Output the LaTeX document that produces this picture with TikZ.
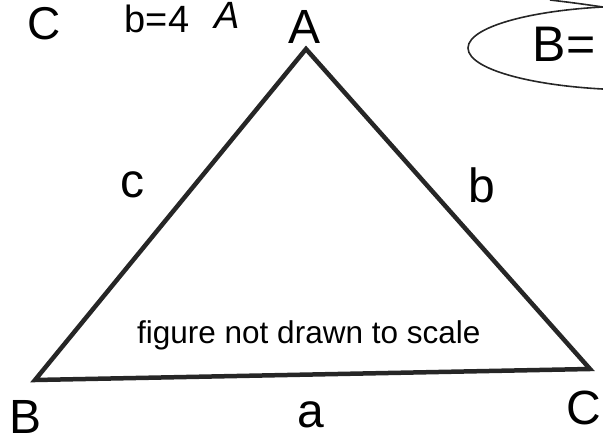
\documentclass[tikz,border=0pt]{standalone}
\usepackage{fontspec}
\setmainfont{Liberation Sans}
\begin{document}
\begin{tikzpicture}[x=1pt,y=-1pt,
  side/.style={line width=4.5pt, line join=miter, black!85},
  vlabel/.style={font=\fontsize{48}{48}\selectfont, anchor=base, inner sep=0pt},
  note/.style={font=\fontsize{31.5}{32}\selectfont, anchor=base west, inner sep=0pt},
  hand/.style={font=\fontsize{38}{38}\selectfont, anchor=base, inner sep=0pt},
  handline/.style={line width=1.6pt, black!85}]
\useasboundingbox (0,0) rectangle (603,441);
\clip (0,0) rectangle (603,441);
% triangle vertices
\coordinate (A) at (306,49);
\coordinate (B) at (35,380);
\coordinate (C) at (590,369);
\draw[side] (B) -- (A) -- (C) -- cycle;
% vertex labels
\node[vlabel] (lA) at (305,44) {A};
\node[vlabel] (lB) at (26,433) {B};
\node[vlabel] (lC) at (584,424) {C};
% side labels
\node[vlabel] (lc) at (132,198) {c};
\node[vlabel] (lb) at (482,203) {b};
\node[vlabel] (la) at (311,427) {a};
% note
\node[note] (nt) at (137,343) {figure not drawn to scale};
% handwritten annotations
\node[hand, font=\fontsize{46}{46}\selectfont] (h1) at (44,40) {C};
\node[hand] (h2) at (157,33) {b=4};
\node[hand, font=\fontsize{38}{38}\selectfont\itshape] (h3) at (227,29) {A};
\draw[handline] (640,48) ellipse [x radius=172, y radius=42];
\node[hand, font=\fontsize{50}{50}\selectfont] (h4) at (564,62) {B=};
\coordinate (t1) at (550,0);
\coordinate (t2) at (603,7);
\draw[handline] (t1) .. controls (575,3) .. (t2);
\end{tikzpicture}
\end{document}
